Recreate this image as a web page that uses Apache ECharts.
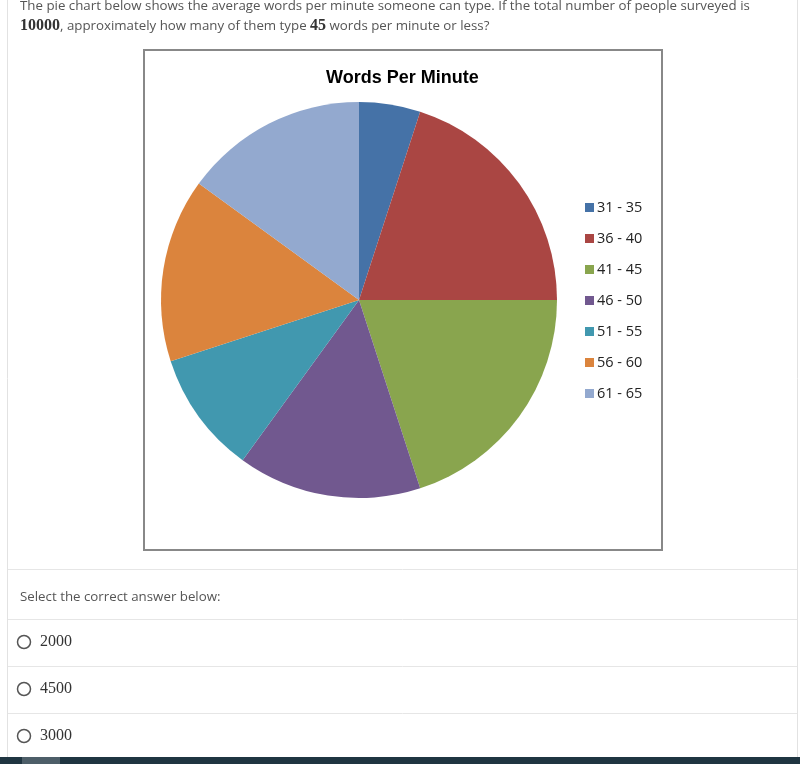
<!DOCTYPE html>
<html>
<head>
<meta charset="utf-8">
<script src="https://cdn.jsdelivr.net/npm/echarts@6/dist/echarts.min.js"></script>
<style>
html,body{margin:0;padding:0;background:#fff;}
#main{width:800px;height:764px;}
</style>
</head>
<body>
<div id="main"></div>
<script>
const categories = ['31 - 35', '36 - 40', '41 - 45', '46 - 50', '51 - 55', '56 - 60', '61 - 65'];
const percentValues = [5, 20, 20, 15, 10, 15, 15];
const sliceColors = ['#4572A7', '#AA4643', '#89A54E', '#71588F', '#4198AF', '#DB843D', '#93A9CF'];
const chartTitle = 'Words Per Minute';
const answerChoices = ['2000', '4500', '3000'];

const chart = echarts.init(document.getElementById('main'), null, {renderer: 'canvas'});

const sans = '"Open Sans", "Noto Sans", sans-serif';
const serif = '"Liberation Serif", "DejaVu Serif", serif';

const graphics = [
  {type: 'rect', z: -10, shape: {x: 0, y: 0, width: 800, height: 764}, style: {fill: '#ffffff'}},
  {type: 'line', z: -5, shape: {x1: 7.5, y1: 0, x2: 7.5, y2: 757}, style: {stroke: '#e2e2e2', lineWidth: 1}},
  {type: 'line', z: -5, shape: {x1: 797.5, y1: 0, x2: 797.5, y2: 757}, style: {stroke: '#e2e2e2', lineWidth: 1}},
  {type: 'rect', z: -4, shape: {x: 144, y: 50, width: 518, height: 500}, style: {fill: '#ffffff', stroke: '#888888', lineWidth: 2}},
  {type: 'line', z: -5, shape: {x1: 8, y1: 569.5, x2: 797, y2: 569.5}, style: {stroke: '#e6e6e6', lineWidth: 1}},
  {type: 'line', z: -5, shape: {x1: 8, y1: 619.5, x2: 797, y2: 619.5}, style: {stroke: '#e6e6e6', lineWidth: 1}},
  {type: 'line', z: -5, shape: {x1: 8, y1: 666.5, x2: 797, y2: 666.5}, style: {stroke: '#e6e6e6', lineWidth: 1}},
  {type: 'line', z: -5, shape: {x1: 8, y1: 713.5, x2: 797, y2: 713.5}, style: {stroke: '#e6e6e6', lineWidth: 1}},
  {type: 'rect', z: -5, shape: {x: 0, y: 757, width: 800, height: 7}, style: {fill: '#1f3541'}},
  {type: 'rect', z: -4, shape: {x: 22, y: 757, width: 38, height: 7}, style: {fill: '#4d5e68'}},
  {type: 'text', left: 20, top: 0, style: {
    text: 'The pie chart below shows the average words per minute someone can type. If the total number of people surveyed is',
    font: '13.3px ' + sans, fill: '#555555'}},
  {type: 'text', left: 20, top: 18, style: {
    text: '{m|10000}{t|, approximately how many of them type }{m|45}{t| words per minute or less?}',
    rich: {
      m: {fontFamily: serif, fontSize: 16, fontWeight: 'bold', fill: '#333333', color: '#333333'},
      t: {fontFamily: sans, fontSize: 13.3, fill: '#555555', color: '#555555'}
    }}},
  {type: 'text', left: 20, top: 591, style: {text: 'Select the correct answer below:', font: '13.3px ' + sans, fill: '#555555'}}
];
const ansY = [642, 689, 736];
answerChoices.forEach((a, i) => {
  graphics.push({type: 'circle', shape: {cx: 24, cy: ansY[i], r: 6.5}, style: {fill: '#fff', stroke: '#555', lineWidth: 1.5}});
  graphics.push({type: 'text', left: 40, top: ansY[i] - 8, style: {text: a, font: '16px ' + serif, fill: '#333333'}});
});

chart.setOption({
  animation: false,
  backgroundColor: '#ffffff',
  title: {
    text: chartTitle, left: 321, top: 64,
    textStyle: {fontFamily: '"Liberation Sans", "Open Sans", sans-serif', fontSize: 18, fontWeight: 'bold', color: '#000'}
  },
  legend: {
    orient: 'vertical', left: 580, top: 195,
    itemWidth: 9, itemHeight: 9, itemGap: 16, icon: 'rect',
    selectedMode: false,
    textStyle: {fontFamily: '"Open Sans", "Noto Sans", sans-serif', fontSize: 14.5, color: '#222', padding: [0, 0, 0, -2]},
    data: categories
  },
  graphic: graphics,
  series: [{
    type: 'pie',
    center: [359, 300],
    radius: 198,
    startAngle: 90,
    clockwise: true,
    silent: true,
    label: {show: false},
    labelLine: {show: false},
    itemStyle: {borderWidth: 0},
    data: categories.map((c, i) => ({name: c, value: percentValues[i], itemStyle: {color: sliceColors[i]}}))
  }]
});
</script>
</body>
</html>
